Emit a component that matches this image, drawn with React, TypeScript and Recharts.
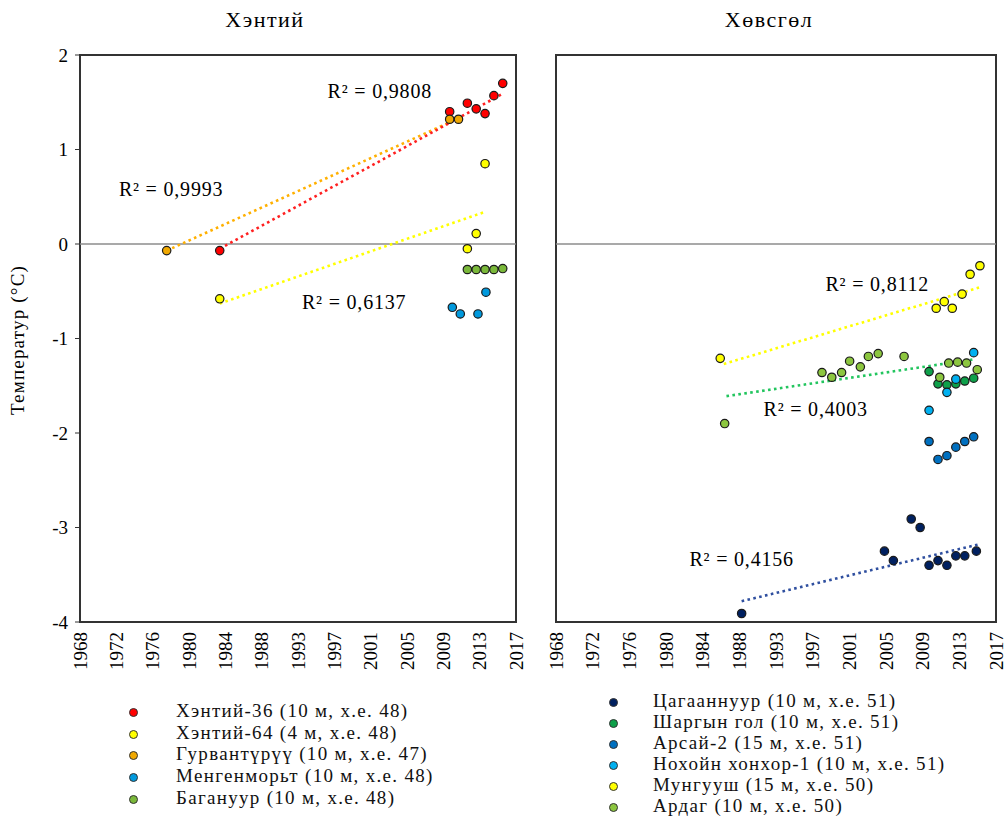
import { ScatterChart, Scatter, XAxis, YAxis, ReferenceLine, ReferenceArea, ReferenceDot } from 'recharts';

const FONT = "'Liberation Serif', 'DejaVu Serif', 'Times New Roman', Times, serif";

// ─── Axis labels ──────────────────────────────────────────────────────────────

const yearLabels = ['1968', '1972', '1976', '1980', '1984', '1988', '1993', '1997', '2001', '2005', '2009', '2013', '2017'];
const yTicks = [-4, -3, -2, -1, 0, 1, 2];
const X_MIN = 1968.2;
const X_MAX = 2017.5;
const xStep = (X_MAX - X_MIN) / (yearLabels.length - 1);
const xTicks = yearLabels.map((_, i) => X_MIN + i * xStep);

// ─── Хэнтий ───────────────────────────────────────────────────────────────────

const khentii36 = [
  { x: 1984, y: -0.07 }, { x: 2010, y: 1.40 }, { x: 2012, y: 1.49 }, { x: 2013, y: 1.43 },
  { x: 2014, y: 1.38 }, { x: 2015, y: 1.57 }, { x: 2016, y: 1.70 },
];
const khentii64 = [{ x: 1984, y: -0.58 }, { x: 2012, y: -0.05 }, { x: 2013, y: 0.11 }, { x: 2014, y: 0.85 }];
const gurvanturuu = [{ x: 1978, y: -0.07 }, { x: 2010, y: 1.32 }, { x: 2011, y: 1.32 }];
const mengenmort = [{ x: 2010.3, y: -0.67 }, { x: 2011.2, y: -0.74 }, { x: 2013.2, y: -0.74 }, { x: 2014.1, y: -0.51 }];
const baganuur = [{ x: 2012, y: -0.27 }, { x: 2013, y: -0.27 }, { x: 2014, y: -0.27 }, { x: 2015, y: -0.27 }, { x: 2016, y: -0.26 }];

const khentii36Trend = [{ x: 1984, y: -0.05 }, { x: 2016, y: 1.59 }];
const khentii64Trend = [{ x: 1984, y: -0.63 }, { x: 2014, y: 0.34 }];
const gurvanturuuTrend = [{ x: 1978, y: -0.07 }, { x: 2011, y: 1.33 }];

// ─── Хөвсгөл ──────────────────────────────────────────────────────────────────

const tsagaannuur = [
  { x: 1989, y: -3.91 }, { x: 2005, y: -3.25 }, { x: 2006, y: -3.35 }, { x: 2008, y: -2.91 },
  { x: 2009, y: -3.00 }, { x: 2010, y: -3.40 }, { x: 2011, y: -3.35 }, { x: 2012, y: -3.40 },
  { x: 2013, y: -3.30 }, { x: 2014, y: -3.30 }, { x: 2015.3, y: -3.25 },
];
const shargynGol = [
  { x: 2010, y: -1.35 }, { x: 2011, y: -1.48 }, { x: 2012, y: -1.49 }, { x: 2013, y: -1.48 },
  { x: 2014, y: -1.45 }, { x: 2015, y: -1.42 },
];
const arsai2 = [
  { x: 2010, y: -2.09 }, { x: 2011, y: -2.28 }, { x: 2012, y: -2.24 }, { x: 2013, y: -2.15 },
  { x: 2014, y: -2.09 }, { x: 2015, y: -2.04 },
];
const nokhoinKhonkhor = [{ x: 2010, y: -1.76 }, { x: 2012, y: -1.57 }, { x: 2013, y: -1.43 }, { x: 2015, y: -1.15 }];
const munguush = [
  { x: 1986.6, y: -1.21 }, { x: 2010.8, y: -0.68 }, { x: 2011.7, y: -0.61 }, { x: 2012.6, y: -0.68 },
  { x: 2013.7, y: -0.53 }, { x: 2014.6, y: -0.32 }, { x: 2015.7, y: -0.23 },
];
const ardag = [
  { x: 1987.1, y: -1.90 }, { x: 1998, y: -1.36 }, { x: 1999.1, y: -1.41 }, { x: 2000.2, y: -1.36 },
  { x: 2001.1, y: -1.24 }, { x: 2002.3, y: -1.30 }, { x: 2003.2, y: -1.19 }, { x: 2004.3, y: -1.16 },
  { x: 2007.2, y: -1.19 }, { x: 2011.2, y: -1.41 }, { x: 2012.2, y: -1.26 }, { x: 2013.2, y: -1.25 },
  { x: 2014.2, y: -1.26 }, { x: 2015.4, y: -1.33 },
];

const munguushTrend = [{ x: 1987, y: -1.27 }, { x: 2015.6, y: -0.46 }];
const ardagTrend = [{ x: 1987.3, y: -1.61 }, { x: 2015.1, y: -1.22 }];
const tsagaannuurTrend = [{ x: 1989, y: -3.78 }, { x: 2015.5, y: -3.18 }];

// ─── Series config ────────────────────────────────────────────────────────────

const leftSeries = [
  { name: 'Хэнтий-36 (10 м, х.е. 48)', data: khentii36, color: '#ff0000' },
  { name: 'Хэнтий-64 (4 м, х.е. 48)', data: khentii64, color: '#ffff00' },
  { name: 'Гурвантүрүү (10 м, х.е. 47)', data: gurvanturuu, color: '#f0a800' },
  { name: 'Менгенморьт (10 м, х.е. 48)', data: mengenmort, color: '#0099dd' },
  { name: 'Багануур (10 м, х.е. 48)', data: baganuur, color: '#7ab83a' },
];
const leftTrends = [
  { data: gurvanturuuTrend, color: '#ffb000' },
  { data: khentii36Trend, color: '#ff2020' },
  { data: khentii64Trend, color: '#ffff00' },
];

const rightSeries = [
  { name: 'Цагааннуур (10 м, х.е. 51)', data: tsagaannuur, color: '#002060' },
  { name: 'Шаргын гол (10 м, х.е. 51)', data: shargynGol, color: '#0ea04a' },
  { name: 'Арсай-2 (15 м, х.е. 51)', data: arsai2, color: '#0070c0' },
  { name: 'Нохойн хонхор-1 (10 м, х.е. 51)', data: nokhoinKhonkhor, color: '#00b0f0' },
  { name: 'Мунгууш (15 м, х.е. 50)', data: munguush, color: '#ffff00' },
  { name: 'Ардаг (10 м, х.е. 50)', data: ardag, color: '#8cc63f' },
];
const rightTrends = [
  { data: munguushTrend, color: '#ffff00' },
  { data: ardagTrend, color: '#22c55e' },
  { data: tsagaannuurTrend, color: '#2f4f9f' },
];

// ─── Pieces ───────────────────────────────────────────────────────────────────

function YearTick({ x, y, payload }: any) {
  const i = Math.round((payload.value - X_MIN) / xStep);
  return (
    <text
      x={0}
      y={0}
      transform={`translate(${x},${y}) rotate(-90)`}
      textAnchor="end"
      dominantBaseline="central"
      fontSize={19}
      style={{ fontFamily: FONT }}
      fill="#000"
    >
      {yearLabels[i]}
    </text>
  );
}

const dot = (color: string) => (p: any) => (
  <circle cx={p.cx} cy={p.cy} r={4.2} fill={color} stroke="#1a1a1a" strokeWidth={1.2} />
);

function R2({ x, y, text }: { x: number; y: number; text: string }) {
  return (
    <ReferenceDot
      x={x}
      y={y}
      r={0}
      label={{
        value: text, position: 'center', fontSize: 20, fill: '#000',
        style: { fontFamily: FONT, letterSpacing: '0.8px' },
      }}
    />
  );
}

function Panel({ series, trends, notes, showY, width, margin }: any) {
  return (
    <ScatterChart width={width} height={700} margin={margin} style={{ fontFamily: FONT }}>
      <XAxis
        type="number"
        dataKey="x"
        domain={[X_MIN, X_MAX]}
        ticks={xTicks}
        interval={0}
        allowDataOverflow
        axisLine={false}
        tickLine={false}
        tickSize={0}
        tickMargin={10}
        height={60}
        tick={<YearTick />}
      />
      <YAxis
        type="number"
        dataKey="y"
        domain={[-4, 2]}
        ticks={yTicks}
        interval={0}
        hide={!showY}
        width={50}
        axisLine={false}
        tickLine={{ stroke: '#333' }}
        tickSize={5}
        tickMargin={7}
        tick={{ fontSize: 19, fill: '#000', style: { fontFamily: FONT } }}
      />
      <ReferenceLine y={0} stroke="#8c8c8c" strokeWidth={1.5} />
      {trends.map((t: any, i: number) => (
        <Scatter
          key={`t${i}`}
          data={t.data}
          line={{ stroke: t.color, strokeWidth: 2.6, strokeDasharray: '2.6 3.4' }}
          shape={() => <g />}
          isAnimationActive={false}
        />
      ))}
      {series.map((s: any) => (
        <Scatter key={s.name} name={s.name} data={s.data} shape={dot(s.color)} isAnimationActive={false} />
      ))}
      {notes.map((n: any) => (
        <R2 key={n.text} {...n} />
      ))}
      <ReferenceArea x1={X_MIN} x2={X_MAX} y1={-4} y2={2} fill="none" stroke="#333" strokeWidth={2} />
    </ScatterChart>
  );
}

function LegendBlock({ series, left, top, step, textLeft }: any) {
  return (
    <>
      {series.map((s: any, i: number) => (
        <div key={s.name} style={{ position: 'absolute', left, top: top + i * step, height: 0 }}>
          <span
            style={{
              position: 'absolute', left: -4, top: -4, width: 7, height: 7, borderRadius: '50%',
              background: s.color, border: '1px solid #333',
            }}
          />
          <span
            style={{
              position: 'absolute', left: textLeft, top: -12, whiteSpace: 'nowrap',
              fontFamily: FONT, fontSize: 19, lineHeight: '22px', color: '#111', letterSpacing: '1.3px',
            }}
          >
            {s.name}
          </span>
        </div>
      ))}
    </>
  );
}

export default function App() {
  const title = { position: 'absolute' as const, top: 7, textAlign: 'center' as const, fontSize: 22, letterSpacing: '1.5px' };
  return (
    <div style={{ position: 'absolute', left: 0, top: 0, width: 1008, height: 819, background: '#fff', fontFamily: FONT }}>
      <div style={{ ...title, left: 0, width: 530 }}>Хэнтий</div>
      <div style={{ ...title, left: 530, width: 478 }}>Хөвсгөл</div>
      <div style={{ position: 'absolute', left: 18, top: 340, width: 0, height: 0 }}>
        <div
          style={{
            position: 'absolute', left: 0, top: 0, transform: 'translate(-50%, -50%) rotate(-90deg)',
            whiteSpace: 'nowrap', fontSize: 19, letterSpacing: '1.2px',
          }}
        >
          Температур (°C)
        </div>
      </div>
      <div style={{ position: 'absolute', left: 0, top: 0 }}>
        <Panel
          series={leftSeries}
          trends={leftTrends}
          showY
          width={530}
          margin={{ top: 55, right: 14, bottom: 18, left: 30 }}
          notes={[
            { x: 2002.1, y: 1.62, text: 'R² = 0,9808' },
            { x: 1978.5, y: 0.58, text: 'R² = 0,9993' },
            { x: 1999.2, y: -0.61, text: 'R² = 0,6137' },
          ]}
        />
      </div>
      <div style={{ position: 'absolute', left: 530, top: 0 }}>
        <Panel
          series={rightSeries}
          trends={rightTrends}
          showY={false}
          width={478}
          margin={{ top: 55, right: 12, bottom: 18, left: 26 }}
          notes={[
            { x: 2004.2, y: -0.42, text: 'R² = 0,8112' },
            { x: 1997.3, y: -1.75, text: 'R² = 0,4003' },
            { x: 1989.0, y: -3.33, text: 'R² = 0,4156' },
          ]}
        />
      </div>
      <LegendBlock series={leftSeries} left={133} top={712} step={21.7} textLeft={43} />
      <LegendBlock series={rightSeries} left={613} top={702} step={21} textLeft={40} />
    </div>
  );
}
